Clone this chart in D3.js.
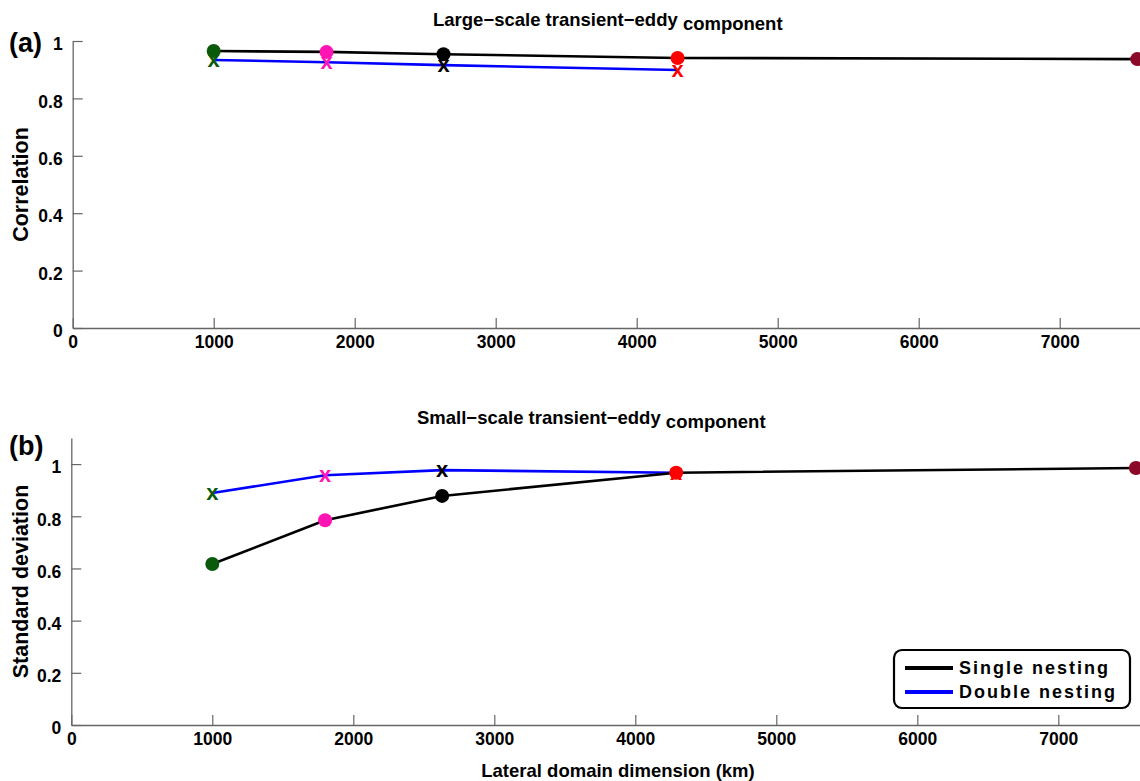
<!DOCTYPE html>
<html>
<head>
<meta charset="utf-8">
<script src="https://cdn.jsdelivr.net/npm/d3@7/dist/d3.min.js"></script>
<style>
  html, body { margin: 0; padding: 0; background: #fff; }
  svg { display: block; font-family: "Liberation Sans", Arial, Helvetica, sans-serif; font-weight: bold; }
</style>
</head>
<body>
<svg id="chart" width="1140" height="781"></svg>
<script>
// Lateral domain sizes (km) of the five simulations
const domainSize = [1000, 1800, 2630, 4290, 7550];
const domainColors = ["#0b5a0b", "#ff14b4", "#000000", "#ff0000", "#8b0a2a"];

// Panel (a): correlation of the large-scale transient-eddy component
const corrSingle = [0.965, 0.962, 0.954, 0.941, 0.937];
const corrDouble = [0.934, 0.926, 0.916, 0.899];

// Panel (b): standard deviation of the small-scale transient-eddy component
const sdSingle = [0.617, 0.785, 0.878, 0.967, 0.985];
const sdDouble = [0.889, 0.957, 0.977, 0.967];

const xTicks = [0, 1000, 2000, 3000, 4000, 5000, 6000, 7000];
const yTicks = [0, 0.2, 0.4, 0.6, 0.8, 1];

const svg = d3.select("#chart");

const panels = [
  { tag: "(a)", titleA: "Large\u2212scale transient\u2212eddy", titleB: "component",
    yLabel: "Correlation", single: corrSingle, double: corrDouble,
    yMax: 1, left: 72.7, top: 41, bottom: 328, titleX: 433, titleY: 26, tagY: 52 },
  { tag: "(b)", titleA: "Small\u2212scale transient\u2212eddy", titleB: "component",
    yLabel: "Standard deviation", single: sdSingle, double: sdDouble,
    yMax: 1.1, left: 71.3, top: 438, bottom: 725, titleX: 417, titleY: 424, tagY: 455 }
];

const pxPerKm = 0.141;

panels.forEach(p => {
  const x = d3.scaleLinear().domain([0, 7600]).range([p.left, p.left + 7600 * pxPerKm]);
  const y = d3.scaleLinear().domain([0, p.yMax]).range([p.bottom, p.top]);
  const g = svg.append("g");

  // axes with inward ticks
  const xAxis = d3.axisBottom(x).tickValues(xTicks).tickSizeInner(-10).tickSizeOuter(0)
    .tickPadding(8).tickFormat(d3.format("d"));
  const yAxis = d3.axisLeft(y).tickValues(yTicks).tickSizeInner(-10).tickSizeOuter(0)
    .tickPadding(10).tickFormat(d => d === 0 ? "0" : d3.format("~g")(d));

  const gx = g.append("g").attr("transform", `translate(0,${p.bottom})`).call(xAxis);
  const gy = g.append("g").attr("transform", `translate(${p.left},0)`).call(yAxis);
  [gx, gy].forEach(a => {
    a.select(".domain").attr("stroke", "#666").attr("stroke-width", 1.3);
    a.selectAll(".tick line").attr("stroke", "#666").attr("stroke-width", 1.2);
    a.selectAll(".tick text").attr("fill", "#000").attr("font-size", 17.5)
      .attr("font-weight", "bold").attr("font-family", "'Liberation Sans', Arial, sans-serif");
  });
  gy.selectAll(".tick text").attr("dy", "0.5em");

  // connecting lines
  const line = (vals) => d3.line().x((d, i) => x(domainSize[i])).y(d => y(d))(vals);
  g.append("path").attr("d", line(p.double)).attr("fill", "none")
    .attr("stroke", "#0000ff").attr("stroke-width", 2.6);
  g.append("path").attr("d", line(p.single)).attr("fill", "none")
    .attr("stroke", "#000").attr("stroke-width", 2.6);

  // double nesting: x markers
  g.selectAll(".xm").data(p.double).enter().append("text")
    .attr("x", (d, i) => x(domainSize[i])).attr("y", d => y(d) + 7)
    .attr("text-anchor", "middle").attr("font-size", 22).attr("font-weight", "bold")
    .attr("fill", (d, i) => domainColors[i]).text("x");

  // single nesting: filled circles
  g.selectAll(".cm").data(p.single).enter().append("circle")
    .attr("cx", (d, i) => x(domainSize[i])).attr("cy", d => y(d)).attr("r", 7)
    .attr("fill", (d, i) => domainColors[i]);

  // title, with "component" set slightly lower
  const t = g.append("text").attr("x", p.titleX).attr("y", p.titleY)
    .attr("font-size", 18.5).attr("fill", "#000");
  t.append("tspan").text(p.titleA + " ");
  t.append("tspan").attr("dy", 4).text(p.titleB);

  // panel tag
  g.append("text").attr("x", 9).attr("y", p.tagY).attr("font-size", 27)
    .attr("fill", "#000").text(p.tag);

  // y label
  g.append("text")
    .attr("transform", `translate(28,${(p.top + p.bottom) / 2}) rotate(-90)`)
    .attr("text-anchor", "middle").attr("font-size", 21.5).attr("fill", "#000")
    .text(p.yLabel);
});

// x label
svg.append("text").attr("x", 618).attr("y", 777).attr("text-anchor", "middle")
  .attr("font-size", 18.5).attr("fill", "#000").text("Lateral domain dimension (km)");

// legend
const legend = svg.append("g");
legend.append("rect").attr("x", 894).attr("y", 650).attr("width", 236).attr("height", 58)
  .attr("rx", 8).attr("fill", "#fff").attr("stroke", "#000").attr("stroke-width", 2.2);
const legendItems = [["Single nesting", "#000"], ["Double nesting", "#0000ff"]];
legendItems.forEach(([label, color], i) => {
  const yy = 668 + i * 24;
  legend.append("line").attr("x1", 905).attr("x2", 953).attr("y1", yy).attr("y2", yy)
    .attr("stroke", color).attr("stroke-width", 4);
  legend.append("text").attr("x", 959).attr("y", yy + 6).attr("font-size", 18)
    .attr("letter-spacing", 2).attr("fill", "#000").text(label);
});
</script>
</body>
</html>
